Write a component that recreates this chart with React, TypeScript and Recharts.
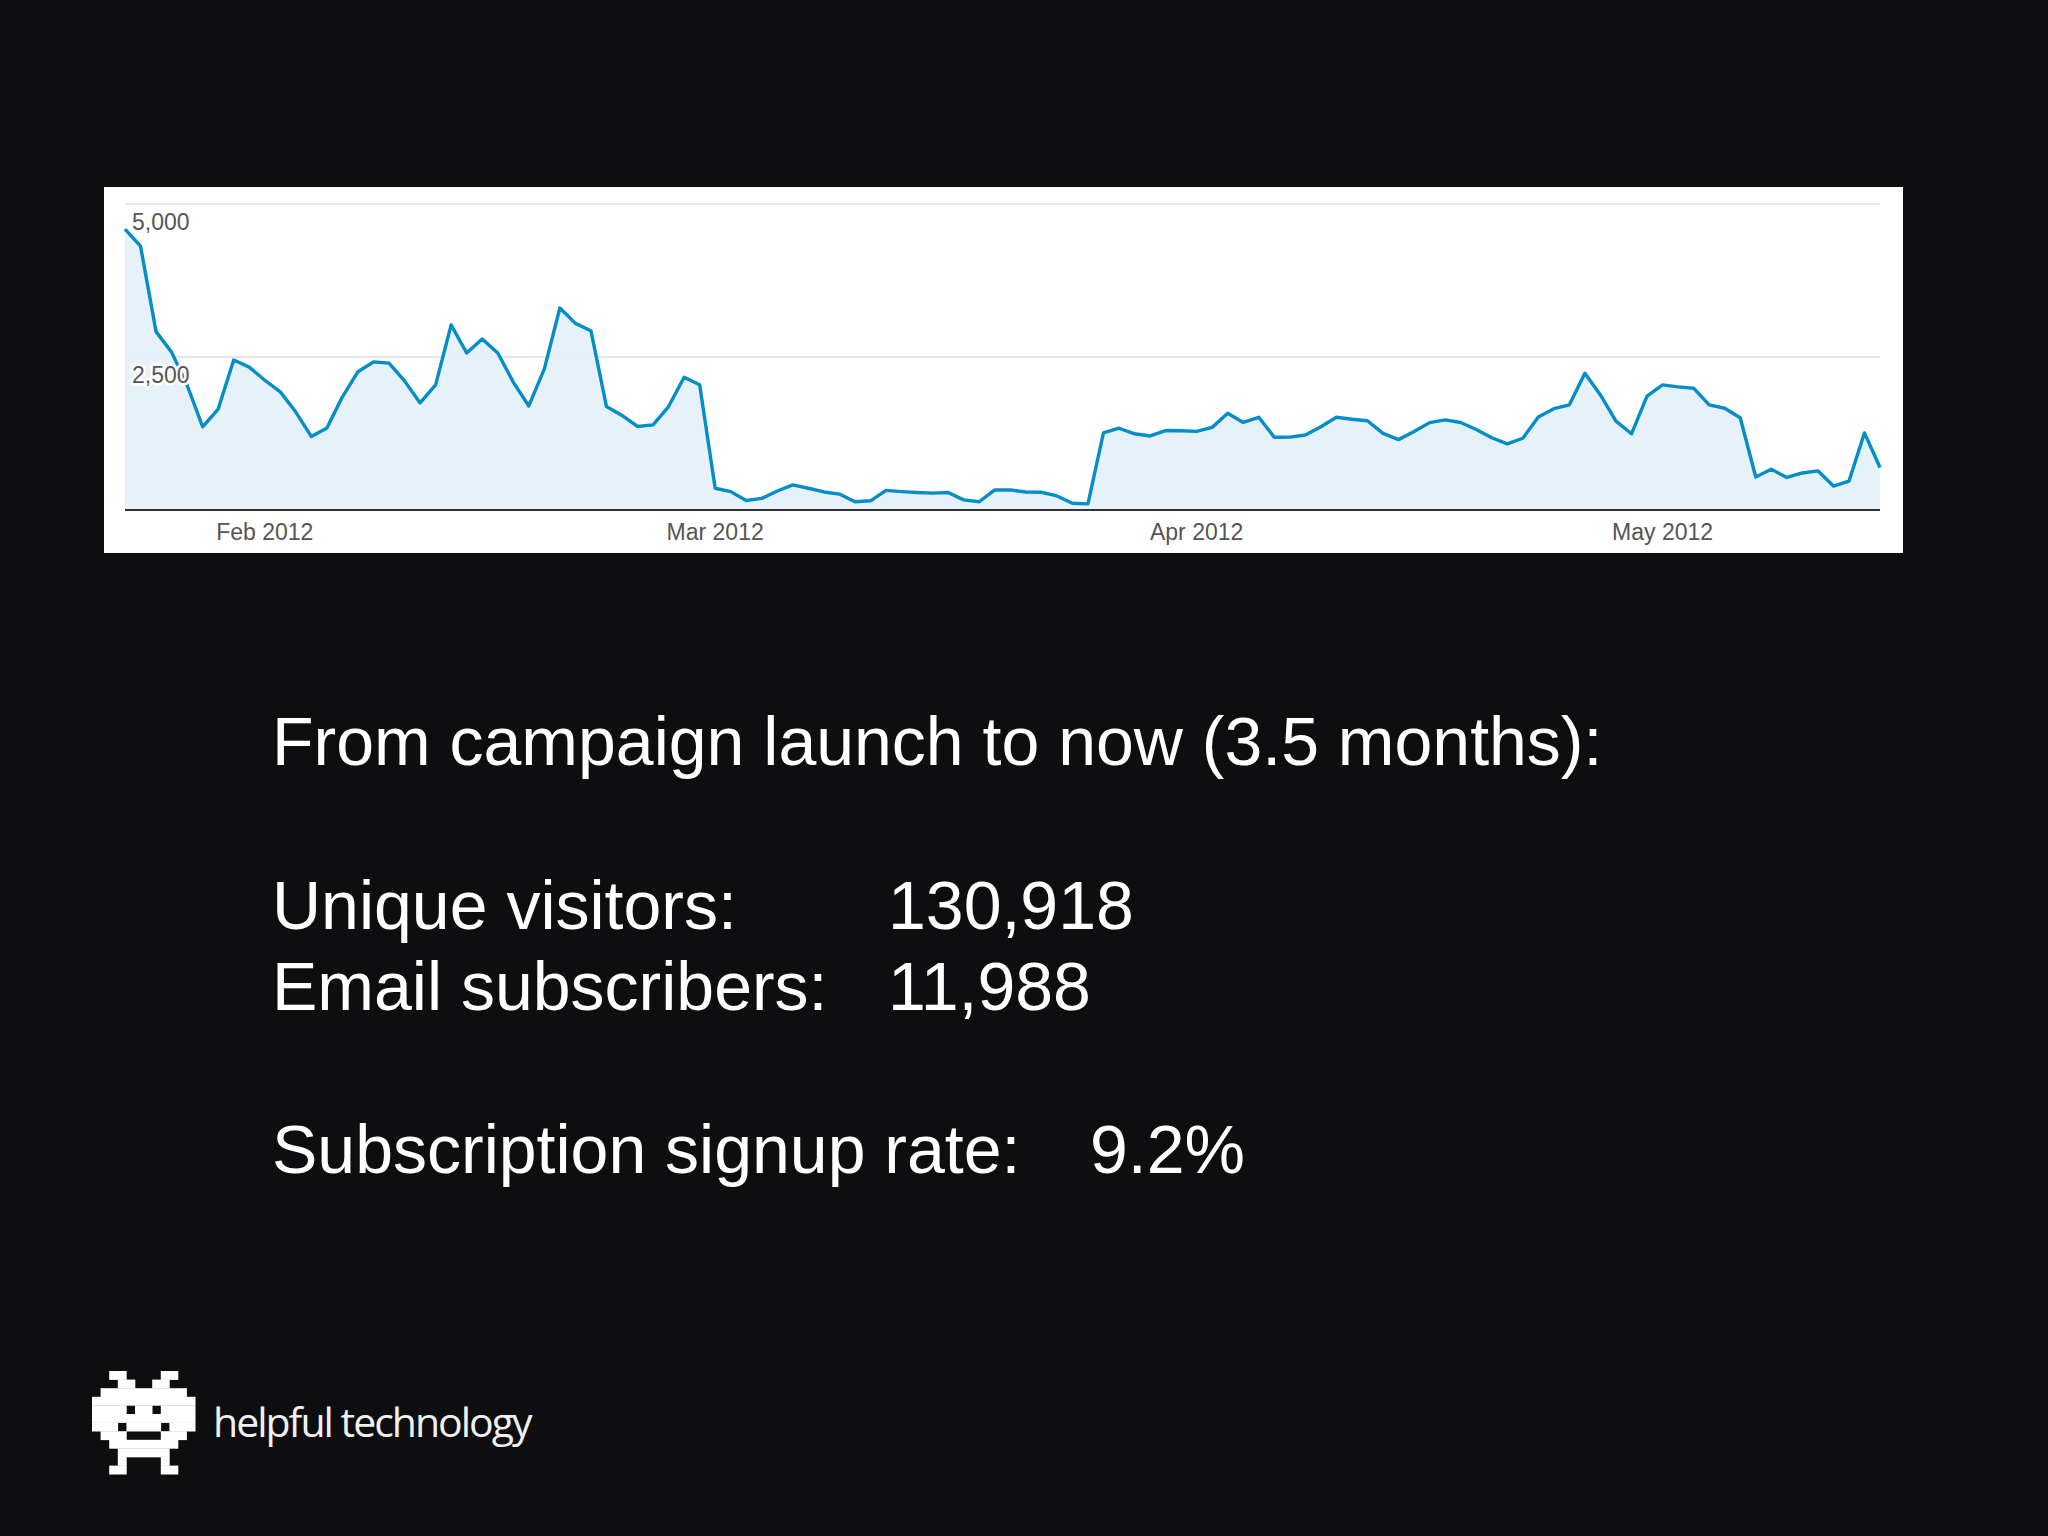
import React from "react";
import { AreaChart, Area, XAxis, YAxis, CartesianGrid } from "recharts";

// Daily unique visitors, 23 Jan 2012 – 15 May 2012
const startDate = "2012-01-23";
const visitors = [
  4590, 4310, 2915, 2580, 2040, 1360, 1650, 2450, 2335, 2120,
  1930, 1600, 1200, 1340, 1850, 2260, 2420, 2400, 2110, 1750,
  2045, 3025, 2565, 2795, 2565, 2090, 1700, 2305, 3300, 3050,
  2930, 1690, 1545, 1365, 1390, 1690, 2170, 2045, 355, 300,
  155, 190, 310, 410, 355, 295, 260, 135, 150, 320,
  300, 285, 275, 285, 165, 135, 328, 328, 295, 290,
  230, 110, 100, 1260, 1336, 1245, 1210, 1298, 1296, 1285,
  1350, 1580, 1430, 1515, 1188, 1190, 1225, 1361, 1515, 1482,
  1459, 1253, 1150, 1282, 1428, 1472, 1430, 1315, 1180, 1080,
  1172, 1520, 1655, 1718, 2236, 1880, 1453, 1245, 1860, 2045,
  2012, 1990, 1718, 1663, 1508, 540, 665, 532, 605, 640,
  392, 470, 1260, 695,
];

const tickDates = ["2012-02-01", "2012-03-01", "2012-04-01", "2012-05-01"];
const tickLabels = ["Feb 2012", "Mar 2012", "Apr 2012", "May 2012"];
const yTicks = [0, 2500, 5000];
const yTickLabels = ["", "2,500", "5,000"];

const statLabels = ["Unique visitors:", "Email subscribers:"];
const statValues = ["130,918", "11,988"];

function dayString(offset: number): string {
  const d = new Date(startDate + "T00:00:00Z");
  d.setUTCDate(d.getUTCDate() + offset);
  return d.toISOString().slice(0, 10);
}

const data = visitors.map((v, i) => ({ date: dayString(i), visitors: v }));

const FONT = "Arial, 'Liberation Sans', Helvetica, sans-serif";

const XTick = (props: any) => {
  const { x, y, payload } = props;
  const idx = tickDates.indexOf(payload.value);
  return (
    <text x={x} y={y + 30} textAnchor="middle" fill="#555" fontSize={23} fontFamily={FONT}>
      {idx >= 0 ? tickLabels[idx] : payload.value}
    </text>
  );
};

const YTick = (props: any) => {
  const { y, payload } = props;
  const idx = yTicks.indexOf(payload.value);
  const label = idx >= 0 ? yTickLabels[idx] : "";
  if (!label) return <g />;
  // labels sit inside the plot, just below their gridline, on a white halo
  return (
    <text
      x={28}
      y={y + 26}
      textAnchor="start"
      fill="#555"
      stroke="#ffffff"
      strokeWidth={5}
      strokeLinejoin="round"
      paintOrder="stroke"
      fontSize={23}
      fontFamily={FONT}
    >
      {label}
    </text>
  );
};

// pixel "invader" logo: rows of [startCol, endCol] runs
const invaderRows: number[][][] = [
  [[2, 3], [8, 9]],
  [[3, 4], [7, 8]],
  [[1, 10]],
  [[0, 11]],
  [[0, 3], [5, 6], [8, 11]],
  [[0, 11]],
  [[0, 2], [4, 7], [9, 11]],
  [[1, 3], [8, 10]],
  [[2, 9]],
  [[3, 8]],
  [[3, 3], [8, 8]],
  [[2, 3], [8, 9]],
];

const Invader = () => {
  const cell = 8.6;
  const ox = 92;
  const oy = 1371;
  const rects: React.ReactNode[] = [];
  invaderRows.forEach((runs, r) =>
    runs.forEach(([a, b], k) =>
      rects.push(
        <rect
          key={`${r}-${k}`}
          x={ox + a * cell}
          y={oy + r * cell}
          width={(b - a + 1) * cell + 0.3}
          height={cell + 0.3}
          fill="#ffffff"
        />
      )
    )
  );
  return <g>{rects}</g>;
};

export default function App() {
  return (
    <div
      style={{
        position: "absolute",
        left: 0,
        top: 0,
        width: 2048,
        height: 1536,
        background: "#0e0d0f",
        overflow: "hidden",
      }}
    >
      <svg width={2048} height={1536} style={{ position: "absolute", left: 0, top: 0 }}>
        <text x={272} y={765} fill="#ffffff" fontSize={68} fontFamily={FONT}>
          From campaign launch to now (3.5 months):
        </text>
        {statLabels.map((label, i) => (
          <g key={label}>
            <text x={272} y={929 + i * 81} fill="#ffffff" fontSize={68} fontFamily={FONT}>
              {label}
            </text>
            <text x={888} y={929 + i * 81} fill="#ffffff" fontSize={68} fontFamily={FONT}>
              {statValues[i]}
            </text>
          </g>
        ))}
        <text x={272} y={1173} fill="#ffffff" fontSize={68} fontFamily={FONT}>
          Subscription signup rate:
        </text>
        <text x={1090} y={1173} fill="#ffffff" fontSize={68} fontFamily={FONT}>
          9.2%
        </text>
        <Invader />
        <text
          x={213}
          y={1437}
          fill="#f0f0f0"
          fontSize={41}
          letterSpacing={-2}
          fontFamily="'Open Sans', 'Noto Sans', sans-serif"
        >
          helpful technology
        </text>
      </svg>
      <div
        style={{
          position: "absolute",
          left: 104,
          top: 187,
          width: 1799,
          height: 366,
          background: "#ffffff",
        }}
      >
        <AreaChart
          width={1799}
          height={366}
          data={data}
          margin={{ top: 17, right: 23, bottom: 0, left: 1 }}
        >
          <CartesianGrid vertical={false} stroke="#e6e6e6" strokeWidth={2} />
          <Area
            type="linear"
            dataKey="visitors"
            stroke="#058dc7"
            strokeWidth={3.4}
            strokeLinejoin="round"
            fill="#e3f0fa"
            fillOpacity={0.9}
            isAnimationActive={false}
            dot={false}
            activeDot={false}
          />
          <XAxis
            dataKey="date"
            ticks={tickDates}
            interval={0}
            height={43}
            tickSize={0}
            tickMargin={0}
            tickLine={false}
            axisLine={{ stroke: "#333333", strokeWidth: 2 }}
            tick={<XTick />}
          />
          <YAxis
            width={20}
            domain={[0, 5000]}
            ticks={yTicks}
            interval={0}
            tickSize={0}
            tickMargin={0}
            tickLine={false}
            axisLine={false}
            tick={<YTick />}
          />
        </AreaChart>
      </div>
    </div>
  );
}
